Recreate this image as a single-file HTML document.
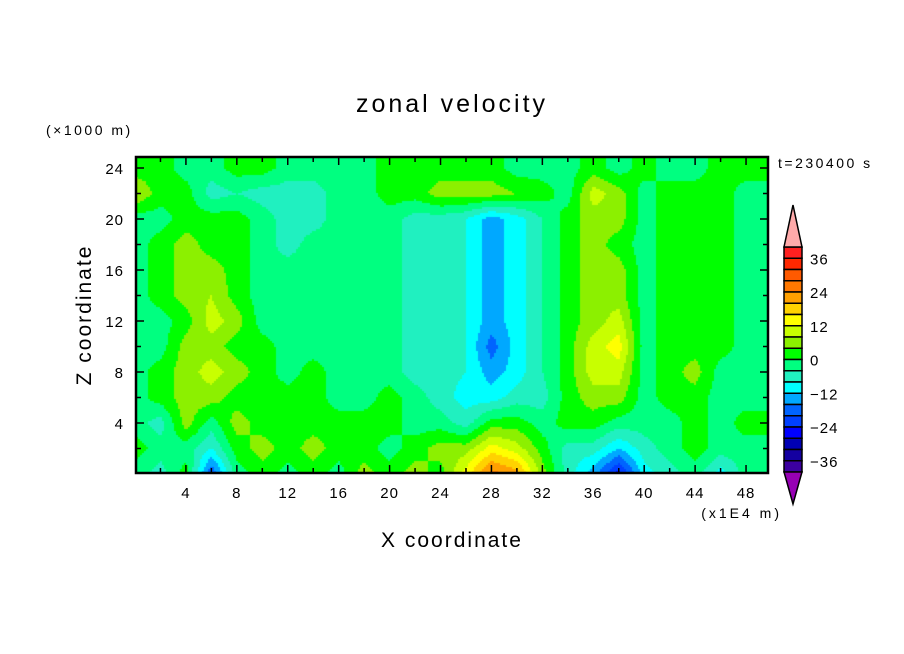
<!DOCTYPE html>
<html><head><meta charset="utf-8">
<style>
html,body{margin:0;padding:0;background:#fff;}
#wrap{position:relative;width:904px;height:654px;overflow:hidden;font-family:"Liberation Sans",sans-serif;}
canvas{position:absolute;left:0;top:0;}
svg{position:absolute;left:0;top:0;}
text{font-family:"Liberation Sans",sans-serif;fill:#000;}
</style></head>
<body>
<div id="wrap">
<canvas id="field" width="904" height="654"></canvas>
<svg id="ov" width="904" height="654">
<text x="452" y="112" font-size="25" letter-spacing="3" text-anchor="middle">zonal velocity</text>
<text x="46" y="135" font-size="14" letter-spacing="2.5">(×1000 m)</text>
<text x="778" y="168" font-size="14" letter-spacing="2.5">t=230400 s</text>
<text x="452" y="547" font-size="21" letter-spacing="2" text-anchor="middle">X coordinate</text>
<text x="782" y="518" font-size="14" letter-spacing="3" text-anchor="end">(x1E4 m)</text>
<text transform="translate(91,315) rotate(-90)" font-size="21" letter-spacing="2" text-anchor="middle">Z coordinate</text>
<g id="axes"></g>
<g id="cbar"></g>
</svg>
</div>
<script>
// data: grid columns x = 0..50 step 2 (×1E4 m), rows z = 0..24 step 2 (×1000 m)
const xCoords = [0,2,4,6,8,10,12,14,16,18,20,22,24,26,28,30,32,34,36,38,40,42,44,46,48,50];
const zCoords = [0,2,4,6,8,10,12,14,16,18,20,22,24];
// each row = one x column, values along z
const col0  = [-2,2,-2,-2,-2,-2,-2,-2,-2,-2,-2,8,2];
const col2  = [-6,-2,-6,2,2,-2,-2,2,2,2,-2,2,2];
const col4  = [2,-2,6,6,6,6,2,6,6,6,2,2,-2];
const col6  = [-20,-8,-2,6,10,6,10,8,6,2,2,-6,-2];
const col8  = [-2,2,6,2,6,2,6,2,2,2,2,-4,2];
const col10 = [2,6,2,2,2,2,-2,-2,-2,-2,-2,-6,2];
const col12 = [-2,2,2,2,-2,-2,-2,-2,-2,-6,-6,-6,-2];
const col14 = [2,6,2,2,2,-2,-2,-2,-2,-2,-6,-6,-2];
const col16 = [-2,2,2,-2,-2,-2,-2,-2,-2,-2,-2,-2,-2];
const col18 = [6,2,2,-2,-2,-2,-2,-2,-2,-2,-2,-2,-2];
const col20 = [2,-2,2,2,-2,-2,-2,-2,-2,-2,-2,2,2];
const col22 = [6,2,-2,-2,-6,-6,-6,-6,-6,-6,-6,2,2];
const col24 = [2,6,-2,-6,-6,-6,-6,-6,-6,-6,-6,6,2];
const col26 = [14,6,-6,-10,-8,-8,-8,-8,-8,-8,-8,6,2];
const col28 = [26,14,2,-10,-14,-18,-14,-14,-14,-14,-14,6,2];
const col30 = [22,10,2,-6,-10,-10,-10,-10,-10,-10,-10,4,-2];
const col32 = [6,2,-2,-6,-4,-4,-4,-4,-4,-4,-4,2,-2];
const col34 = [-6,-6,2,2,2,2,2,2,2,2,2,-2,-2];
const col36 = [-14,-6,2,6,10,10,6,6,6,6,6,10,2];
const col38 = [-26,-12,-2,6,10,14,10,6,6,2,6,6,-2];
const col40 = [-10,-6,-2,-2,-2,-2,-2,-2,-2,-2,-2,-2,2];
const col42 = [-6,-2,-2,2,2,2,2,2,2,2,2,2,-2];
const col44 = [-2,2,2,2,6,2,2,2,2,2,2,2,-2];
const col46 = [-10,-2,-2,-2,-2,2,2,2,2,2,2,2,2];
const col48 = [-2,-2,2,-2,-2,-2,-2,-2,-2,-2,-2,-2,2];
const col50 = [-2,-2,2,-2,-2,-2,-2,-2,-2,-2,-2,-2,2];
const grid = [col0,col2,col4,col6,col8,col10,col12,col14,col16,col18,col20,col22,col24,col26,col28,col30,col32,col34,col36,col38,col40,col42,col44,col46,col48,col50];
const levelColors = ["#3c00a0","#1400a0","#0000b4","#0000ff","#0040ff","#0064ff","#00a8ff","#00ffff","#20f0c0","#00ff80","#00ff00","#8cf000","#c8ff00","#ffff00","#ffd200","#ffa000","#ff7800","#ff5a00","#ff2800","#ff2020"];
const levelMin = -40, levelStep = 4;
const cbarLabels = [36,24,12,0,-12,-24,-36];
const xTickLabels = [4,8,12,16,20,24,28,32,36,40,44,48];
const zTickLabels = [4,8,12,16,20,24];

const PL=136, PR=768, PT=157, PB=473;
const X0=135, XS=12.73; const Z0=474, ZS=12.75;
const sx = x => X0 + x*XS;
const sz = z => Z0 - z*ZS;
const NS="http://www.w3.org/2000/svg";

function val(x,z){
  let i=Math.min(Math.max(Math.floor(x/2),0),xCoords.length-2);
  let j=Math.min(Math.max(Math.floor(z/2),0),zCoords.length-2);
  let tx=Math.min(Math.max((x-xCoords[i])/2,0),1), tz=Math.min(Math.max((z-zCoords[j])/2,0),1);
  const a=grid[i][j],b=grid[i+1][j],c=grid[i][j+1],d=grid[i+1][j+1];
  return a*(1-tx)*(1-tz)+b*tx*(1-tz)+c*(1-tx)*tz+d*tx*tz;
}
function color(v){
  if(v>=40) return "#ffaaaa";
  if(v<levelMin) return "#9600b4";
  return levelColors[Math.floor((v-levelMin)/levelStep)];
}
const ctx=document.getElementById('field').getContext('2d');
for(let px=PL;px<PR;px+=2){
  for(let py=PT;py<PB;py+=2){
    const x=(px+1-X0)/XS, z=(Z0-(py+1))/ZS;
    ctx.fillStyle=color(val(x,z));
    ctx.fillRect(px,py,2,2);
  }
}
const axes=document.getElementById('axes');
function line(x1,y1,x2,y2,w,name){
  const l=document.createElementNS(NS,'line');
  l.setAttribute('x1',x1);l.setAttribute('y1',y1);l.setAttribute('x2',x2);l.setAttribute('y2',y2);
  l.setAttribute('stroke','#000');l.setAttribute('stroke-width',w);
  
  
  axes.appendChild(l);
}
function txt(x,y,s,anchor,size,name,parent){
  const t=document.createElementNS(NS,'text');
  t.setAttribute('x',x);t.setAttribute('y',y);t.setAttribute('text-anchor',anchor);t.setAttribute('font-size',size);
  t.setAttribute('letter-spacing','1');
  t.textContent=s;
  
  
  parent.appendChild(t);
}
const frame=document.createElementNS(NS,'rect');
frame.setAttribute('x',PL);frame.setAttribute('y',PT);frame.setAttribute('width',PR-PL);frame.setAttribute('height',PB-PT);
frame.setAttribute('fill','none');frame.setAttribute('stroke','#000');frame.setAttribute('stroke-width','2.5');


axes.appendChild(frame);
for(let x=2;x<50;x+=2){
  const L=(x%4===0)?8:5;
  line(sx(x),PB,sx(x),PB-L,1.5,'x-tick');
  line(sx(x),PT,sx(x),PT+L,1.5,'x-tick-top');
}
for(let z=2;z<=24;z+=2){
  const L=(z%4===0)?8:5;
  line(PL,sz(z),PL+L,sz(z),1.5,'z-tick');
  line(PR,sz(z),PR-L,sz(z),1.5,'z-tick-right');
}
xTickLabels.forEach(v=>txt(sx(v),498,String(v),'middle',15,'x-tick-label',axes));
zTickLabels.forEach(v=>txt(124,sz(v)+6,String(v),'end',15,'z-tick-label',axes));

// colorbar
const cb=document.getElementById('cbar');
const CX=784, CW=18, CT=247, BH=11.25;
const n=levelColors.length;
for(let k=0;k<n;k++){
  const r=document.createElementNS(NS,'rect');
  r.setAttribute('x',CX);r.setAttribute('y',CT+k*BH);r.setAttribute('width',CW);r.setAttribute('height',BH);
  r.setAttribute('fill',levelColors[n-1-k]);r.setAttribute('stroke','#000');r.setAttribute('stroke-width','1.5');
  
  
  cb.appendChild(r);
}
const CB=CT+n*BH;
const up=document.createElementNS(NS,'polygon');
up.setAttribute('points',`${CX},${CT} ${CX+CW},${CT} ${CX+CW/2},${CT-42}`);
up.setAttribute('fill','#ffaaaa');up.setAttribute('stroke','#000');up.setAttribute('stroke-width','1.5');


cb.appendChild(up);
const dn=document.createElementNS(NS,'polygon');
dn.setAttribute('points',`${CX},${CB} ${CX+CW},${CB} ${CX+CW/2},${CB+32}`);
dn.setAttribute('fill','#9600b4');dn.setAttribute('stroke','#000');dn.setAttribute('stroke-width','1.5');


cb.appendChild(dn);
cbarLabels.forEach(v=>{
  const y=CT+(40-v)/levelStep*BH;
  txt(810,y+6,String(v).replace('-','\u2212'),'start',15,'colorbar-label',cb);
});
</script>
</body></html>
